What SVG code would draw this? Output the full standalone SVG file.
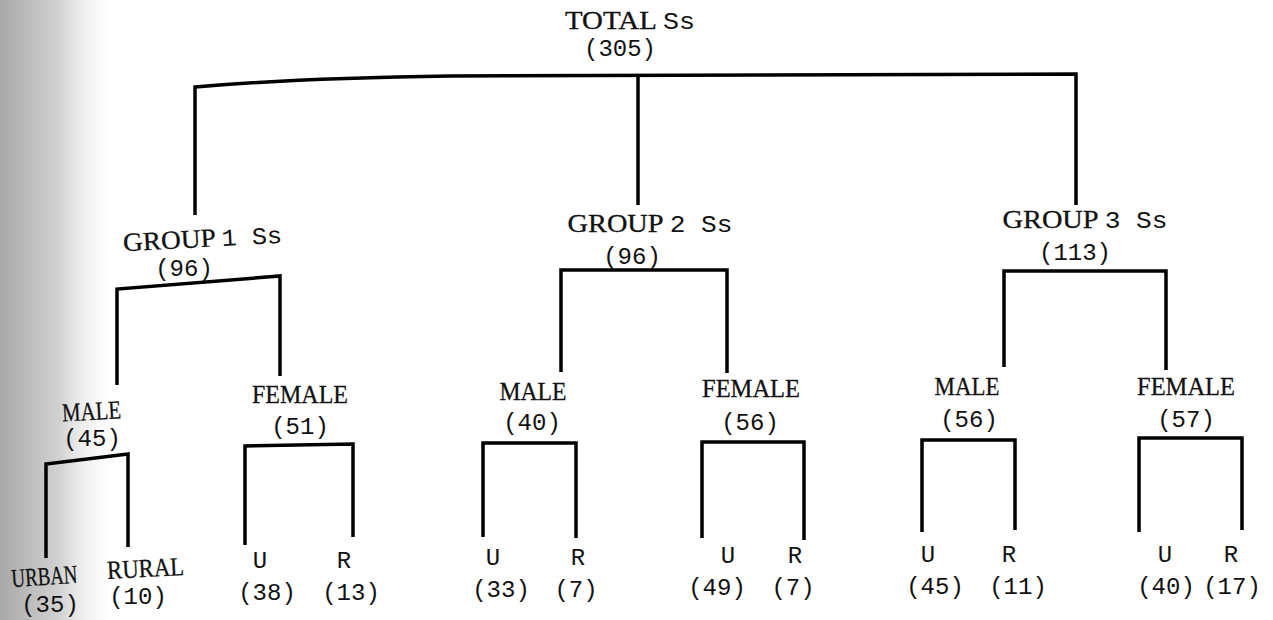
<svg xmlns="http://www.w3.org/2000/svg" width="1273" height="620" viewBox="0 0 1273 620">
<defs>
<linearGradient id="shade" x1="0" y1="0" x2="1" y2="0">
<stop offset="0" stop-color="#a8a8a8"/>
<stop offset="0.5" stop-color="#d2d2d2"/>
<stop offset="1" stop-color="#ffffff" stop-opacity="0"/>
</linearGradient>
<style>
.w{font-family:"Liberation Serif","Times New Roman",serif;font-size:26px;fill:#111;stroke:#111;stroke-width:0.3;text-anchor:middle}
.n{font-family:"Liberation Mono","Courier New",monospace;font-size:24px;fill:#111;text-anchor:middle}
.m{font-family:"Liberation Mono","Courier New",monospace;font-size:24px;stroke-width:0}
.c{fill:none;stroke:#000;stroke-width:3.5;stroke-linejoin:miter;stroke-linecap:butt}
</style>
</defs>
<rect x="0" y="0" width="1273" height="620" fill="#fff"/>
<rect x="0" y="0" width="120" height="620" fill="url(#shade)"/>
<g id="connectors">
<path class="c" d="M195 215 V87 Q300 78 450 76 L1076 74 V205"/>
<path class="c" d="M638 76 V205"/>
<path class="c" d="M117 385 V289 L280 276 V376"/>
<path class="c" d="M561 372 V270 H727 V373"/>
<path class="c" d="M1004 367 V271 H1166 V370"/>
<path class="c" d="M46 558 V464 L128 454 V547"/>
<path class="c" d="M245 545 V446 L353 444 V537"/>
<path class="c" d="M483 537 V443 H576 V538"/>
<path class="c" d="M702 538 V442 H804 V540"/>
<path class="c" d="M922 532 V440 H1015 V530"/>
<path class="c" d="M1139 532 V438 H1242 V530"/>
</g>
<g id="total"><text class="w" x="630" y="29" textLength="130" lengthAdjust="spacingAndGlyphs">TOTAL <tspan class="m">Ss</tspan></text><text class="n" x="620" y="56">(305)</text></g>
<g id="group1"><text class="w" x="203" y="247" textLength="159" lengthAdjust="spacingAndGlyphs" transform="rotate(-3 203 247)">GROUP <tspan class="m">1 Ss</tspan></text><text class="n" x="184" y="276">(96)</text></g>
<g id="group2"><text class="w" x="650" y="232" textLength="165" lengthAdjust="spacingAndGlyphs">GROUP <tspan class="m">2 Ss</tspan></text><text class="n" x="632" y="264">(96)</text></g>
<g id="group3"><text class="w" x="1085" y="228" textLength="165" lengthAdjust="spacingAndGlyphs">GROUP <tspan class="m">3 Ss</tspan></text><text class="n" x="1075" y="260">(113)</text></g>
<g id="male1"><text class="w" x="92" y="420" textLength="59" lengthAdjust="spacingAndGlyphs" transform="rotate(-3 92 420)">MALE</text><text class="n" x="92" y="446">(45)</text></g>
<g id="female1"><text class="w" x="300" y="403" textLength="96" lengthAdjust="spacingAndGlyphs">FEMALE</text><text class="n" x="300" y="434">(51)</text></g>
<g id="male2"><text class="w" x="533" y="400" textLength="67" lengthAdjust="spacingAndGlyphs">MALE</text><text class="n" x="532" y="430">(40)</text></g>
<g id="female2"><text class="w" x="751" y="397" textLength="98" lengthAdjust="spacingAndGlyphs">FEMALE</text><text class="n" x="750" y="430">(56)</text></g>
<g id="male3"><text class="w" x="967" y="395" textLength="65" lengthAdjust="spacingAndGlyphs">MALE</text><text class="n" x="969" y="427">(56)</text></g>
<g id="female3"><text class="w" x="1186" y="395" textLength="98" lengthAdjust="spacingAndGlyphs">FEMALE</text><text class="n" x="1186" y="427">(57)</text></g>
<g id="urban1"><text class="w" x="45" y="585" textLength="66" lengthAdjust="spacingAndGlyphs" transform="rotate(-4 45 585)">URBAN</text><text class="n" x="50" y="612">(35)</text></g>
<g id="rural1"><text class="w" x="146" y="577" textLength="77" lengthAdjust="spacingAndGlyphs" transform="rotate(-3 146 577)">RURAL</text><text class="n" x="138" y="604">(10)</text></g>
<g id="u1f"><text class="n" x="260" y="568">U</text><text class="n" x="267" y="600">(38)</text></g>
<g id="r1f"><text class="n" x="344" y="568">R</text><text class="n" x="351" y="600">(13)</text></g>
<g id="u2m"><text class="n" x="493" y="565">U</text><text class="n" x="501" y="597">(33)</text></g>
<g id="r2m"><text class="n" x="578" y="565">R</text><text class="n" x="576" y="597">(7)</text></g>
<g id="u2f"><text class="n" x="728" y="563">U</text><text class="n" x="717" y="595">(49)</text></g>
<g id="r2f"><text class="n" x="795" y="563">R</text><text class="n" x="793" y="595">(7)</text></g>
<g id="u3m"><text class="n" x="928" y="562">U</text><text class="n" x="935" y="594">(45)</text></g>
<g id="r3m"><text class="n" x="1009" y="562">R</text><text class="n" x="1018" y="594">(11)</text></g>
<g id="u3f"><text class="n" x="1165" y="562">U</text><text class="n" x="1166" y="594">(40)</text></g>
<g id="r3f"><text class="n" x="1231" y="562">R</text><text class="n" x="1232" y="594">(17)</text></g>
</svg>
